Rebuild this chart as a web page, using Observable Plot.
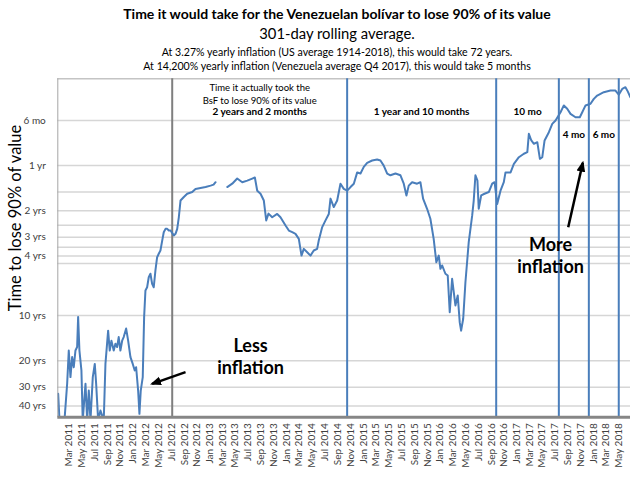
<!DOCTYPE html>
<html><head><meta charset="utf-8">
<script src="https://cdn.jsdelivr.net/npm/d3@7"></script>
<script src="https://cdn.jsdelivr.net/npm/@observablehq/plot@0.6"></script>
<style>
body{margin:0;background:#fff;font-family:Lato,"Open Sans",sans-serif;}
#wrap{position:relative;width:640px;height:480px;overflow:hidden;background:#fff;}
.h{position:absolute;left:337px;transform:translateX(-50%);white-space:nowrap;color:#000;text-align:center;z-index:2;}
#chart{position:absolute;left:0;top:70px;z-index:1;}
</style></head><body>
<div id="wrap">
 <div id="chart"></div>
 <div class="h" id="t1" style="top:6px;font-size:14px;font-weight:700;line-height:16px;"></div>
 <div class="h" id="t2" style="top:25px;font-size:14.8px;line-height:17px;"></div>
 <div class="h" id="t3" style="top:45.5px;font-size:10.6px;line-height:12px;"></div>
 <div class="h" id="t4" style="top:60px;font-size:10.6px;line-height:12px;"></div>
</div>
<script>
// ---- texts ----
const titleText = "Time it would take for the Venezuelan bolívar to lose 90% of its value";
const subtitleText = "301-day rolling average.";
const noteLine1 = "At 3.27% yearly inflation (US average 1914-2018), this would take 72 years.";
const noteLine2 = "At 14,200% yearly inflation (Venezuela average Q4 2017), this would take 5 months";
const yTitle = "Time to lose 90% of value";

// ---- series: decimal year, time to lose 90% of value (years); null = gap ----
const xYear = [2011.024,2011.041,2011.106,2011.141,2011.162,2011.184,2011.206,2011.227,2011.249,2011.271,
2011.284,2011.301,2011.327,2011.344,2011.380,2011.402,2011.423,2011.445,2011.475,2011.501,
2011.519,2011.545,2011.575,2011.618,2011.640,2011.675,2011.696,2011.718,2011.748,2011.770,
2011.792,2011.813,2011.835,2011.858,2011.878,2011.910,2011.936,2011.966,2011.996,2012.022,
2012.040,2012.066,2012.083,2012.100,2012.126,2012.144,2012.161,2012.183,2012.204,2012.226,
2012.248,2012.269,2012.291,2012.313,2012.334,2012.356,2012.379,2012.399,2012.422,2012.444,
2012.465,2012.487,2012.530,2012.552,2012.574,2012.595,2012.617,2012.660,2012.704,2012.769,
2012.812,2012.877,2012.943,2013.008,2013.047,2013.073,2013.150,2013.225,2013.290,2013.355,
2013.421,2013.486,2013.551,2013.585,2013.616,2013.659,2013.702,2013.733,2013.763,2013.811,
2013.876,2013.919,2013.985,2014.028,2014.072,2014.115,2014.158,2014.193,2014.223,2014.267,
2014.310,2014.353,2014.397,2014.418,2014.463,2014.506,2014.549,2014.571,2014.614,2014.658,
2014.701,2014.744,2014.789,2014.832,2014.875,2014.919,2014.962,2015.005,2015.049,2015.114,
2015.179,2015.222,2015.265,2015.310,2015.352,2015.418,2015.483,2015.526,2015.561,2015.591,
2015.635,2015.700,2015.743,2015.778,2015.830,2015.873,2015.916,2015.951,2015.982,2016.004,
2016.026,2016.069,2016.099,2016.125,2016.156,2016.199,2016.229,2016.255,2016.273,2016.300,
2016.329,2016.372,2016.417,2016.437,2016.459,2016.485,2016.502,2016.534,2016.577,2016.633,
2016.677,2016.708,2016.742,2016.785,2016.828,2016.850,2016.916,2016.959,2017.024,2017.089,
2017.134,2017.154,2017.186,2017.220,2017.264,2017.298,2017.329,2017.359,2017.415,2017.459,
2017.502,2017.567,2017.610,2017.654,2017.697,2017.762,2017.818,2017.850,2017.893,2017.958,
2018.001,2018.045,2018.131,2018.218,2018.283,2018.326,2018.371,2018.413,2018.443,2018.478];
const tLose = [33.2,50,50,28.4,17.1,25.7,18.9,22.1,17.1,16.2,
10.2,17.1,23.2,50,28.5,50,31.6,50,25.7,21.0,
28.5,50,42.9,50,21.0,12.6,17.1,14.7,17.1,15.4,
16.2,13.9,17.1,14.7,13.9,12.2,14.7,18.9,21.0,23.2,
22.1,31.6,45.2,31.6,25.7,10.2,6.80,6.47,5.55,5.26,
6.14,6.47,5.00,4.08,3.87,3.68,3.16,2.78,2.64,2.64,
2.71,2.71,2.92,2.85,2.64,2.21,1.71,1.62,1.54,1.50,
1.43,1.41,1.39,1.36,1.34,1.29,null,1.39,1.32,1.22,
1.29,1.26,1.22,1.20,1.47,1.54,1.71,2.32,2.09,2.21,
2.10,2.21,2.51,2.71,2.78,2.85,3.08,3.98,3.59,3.78,
3.98,3.68,3.59,3.16,2.57,2.32,2.10,1.66,1.89,1.71,
1.32,1.43,1.47,1.39,1.32,1.11,1.13,1.02,0.958,0.925,
0.911,0.925,1.00,1.13,1.16,1.13,1.16,1.32,1.58,1.36,
1.29,1.32,1.29,1.66,1.94,2.26,3.08,4.41,3.98,4.88,
4.63,5.26,5.40,9.49,5.68,8.56,7.35,11.1,12.6,10.5,
5.99,3.24,2.15,1.71,1.16,1.26,1.94,1.58,1.54,1.50,
1.32,1.29,1.80,1.47,1.29,1.11,1.11,0.973,0.879,0.834,
0.814,0.614,0.680,0.716,0.698,0.901,0.879,0.680,0.599,0.527,
0.500,0.441,0.397,0.418,0.452,0.476,0.476,0.441,0.397,0.387,
0.359,0.341,0.324,0.316,0.316,0.337,0.308,0.300,0.320,0.350];

// ---- axes ----
const yTicks = [0.5, 1, 2, 3, 4, 10, 20, 30, 40];
const yTickLabels = ["6 mo", "1 yr", "2 yrs", "3 yrs", "4 yrs", "10 yrs", "20 yrs", "30 yrs", "40 yrs"];
const yGrid = [0.5, 1, 1.5, 2, 2.5, 3, 3.5, 4, 4.5, 10, 20, 30, 40];
const yDomain = [47.57, 0.2638];
const xDomainYears = [2011.019, 2018.479];
const xTickStart = [2011, 2];  // Mar 2011
const xTickEnd = [2018, 4];    // May 2018
const xTickStepMonths = 2;

// ---- periods ----
const periodBounds = [2012.509, 2014.788, 2016.729, 2017.545, 2017.936, 2018.326];
const periodLabels = ["2 years and 2 months", "1 year and 10 months", "10 mo", "4 mo", "6 mo"];
const periodNote = "Time it actually took the\nBsF to lose 90% of its value";

// ---- annotations ----
const noteText = ["Less\ninflation", "More\ninflation"];
const noteX = [2013.529, 2017.437];
const noteY = [18.5, 3.945];
const arrowX1 = [2012.682, 2017.667];
const arrowY1 = [23.8, 2.574];
const arrowX2 = [2012.248, 2017.857];
const arrowY2 = [28.5, 0.958];

function decYear(v) {
  const y = Math.floor(v);
  const s = Date.UTC(y, 0, 1), e = Date.UTC(y + 1, 0, 1);
  return new Date(s + (v - y) * (e - s));
}

// filled triangular arrowhead marker
function filledHead(color, context) {
  const doc = (context && context.document) || document;
  const ns = "http://www.w3.org/2000/svg";
  const m = doc.createElementNS(ns, "marker");
  m.setAttribute("viewBox", "-5 -5 10 10");
  m.setAttribute("markerUnits", "userSpaceOnUse");
  m.setAttribute("markerWidth", 11);
  m.setAttribute("markerHeight", 11);
  m.setAttribute("refX", 3);
  m.setAttribute("refY", 0);
  m.setAttribute("orient", "auto");
  const p = doc.createElementNS(ns, "path");
  p.setAttribute("d", "M-5,-4L5,0L-5,4Z");
  p.setAttribute("fill", color);
  p.setAttribute("stroke", "none");
  m.appendChild(p);
  return m;
}

document.getElementById("t1").textContent = titleText;
document.getElementById("t2").textContent = subtitleText;
document.getElementById("t3").textContent = noteLine1;
document.getElementById("t4").textContent = noteLine2;

const series = xYear.map((x, i) => ({date: decYear(x), t: tLose[i]}));
const xTicks = d3.utcMonth.range(new Date(Date.UTC(xTickStart[0], xTickStart[1], 1)),
                                 new Date(Date.UTC(xTickEnd[0], xTickEnd[1] + 1, 1)), xTickStepMonths);
const yLabelRows = yTicks.map((d, i) => ({t: d, label: yTickLabels[i]}));
const mids = periodLabels.map((l, i) => ({x: decYear((periodBounds[i] + periodBounds[i + 1]) / 2), label: l}));
const notes = noteText.map((t, i) => ({x: decYear(noteX[i]), y: noteY[i], text: t}));
const arrows = arrowX1.map((x, i) => ({x1: decYear(x), y1: arrowY1[i], x2: decYear(arrowX2[i]), y2: arrowY2[i]}));

const blue = "#4a7ebb";

const chart = Plot.plot({
  width: 640,
  height: 410,
  marginTop: 8.3,
  marginBottom: 63.3,
  marginLeft: 57.3,
  marginRight: 10,
  style: {fontFamily: "Lato, 'Open Sans', sans-serif", fontSize: "10px", background: "transparent", color: "#000"},
  x: {type: "utc", domain: xDomainYears.map(decYear), label: null},
  y: {type: "log", domain: yDomain, label: null, axis: null},
  marks: [
    Plot.gridY(yGrid, {stroke: "#d6d6d6", strokeOpacity: 1, strokeWidth: 1.5}),
    Plot.ruleY([yDomain[1]], {stroke: "#c4c4c4", strokeWidth: 1.5}),
    Plot.ruleX([decYear(periodBounds[0])], {stroke: "#7f7f7f", strokeWidth: 2}),
    Plot.ruleX(periodBounds.slice(1).map(decYear), {stroke: blue, strokeWidth: 2}),
    Plot.line(series, {x: "date", y: "t", stroke: blue, strokeWidth: 2, clip: true}),
    Plot.ruleX([decYear(xDomainYears[0])], {stroke: "#a6a6a6", strokeWidth: 1}),
    Plot.ruleY([yDomain[0]], {stroke: "#868686", strokeWidth: 3}),
    Plot.text(yLabelRows, {y: "t", text: "label", frameAnchor: "left", textAnchor: "end", dx: -12, fontSize: 10, fill: "#404040"}),
    Plot.axisX(xTicks, {tickFormat: d3.utcFormat("%b %Y"), tickRotate: -90, tickSize: 0, tickPadding: 6, fontSize: 10, fill: "#404040", label: null}),
    Plot.text([yTitle], {frameAnchor: "left", textAnchor: "middle", rotate: -90, dx: -42, dy: -30, fontSize: 16.5, fill: "#000"}),
    Plot.text(mids.slice(0, 3), {x: "x", text: "label", frameAnchor: "top", lineAnchor: "middle", dy: 32.7, fontSize: 10, fontWeight: "bold", fill: "#000"}),
    Plot.text(mids.slice(3), {x: "x", text: "label", frameAnchor: "top", lineAnchor: "middle", dy: 56.2, fontSize: 10, fontWeight: "bold", fill: "#000"}),
    Plot.text([periodNote], {x: mids[0].x, text: d => d, frameAnchor: "top", lineAnchor: "middle", dy: 14.5, fontSize: 9.5, lineHeight: 1.35, fill: "#000"}),
    Plot.text(notes, {x: "x", y: "y", text: "text", fontSize: 18, fontWeight: "bold", lineHeight: 1.22, fill: "#000"}),
    Plot.link(arrows, {x1: "x1", y1: "y1", x2: "x2", y2: "y2", stroke: "#000", strokeWidth: 2.5, markerEnd: filledHead})
  ]
});
document.getElementById("chart").appendChild(chart);
</script>
</body></html>
